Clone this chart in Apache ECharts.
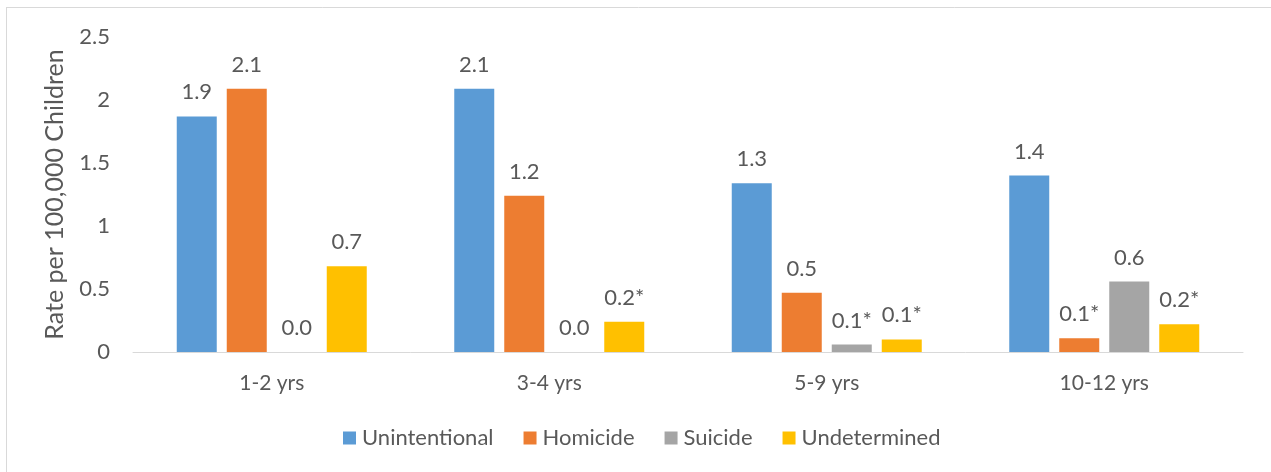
<!DOCTYPE html>
<html>
<head>
<meta charset="utf-8">
<script src="https://cdn.jsdelivr.net/npm/echarts@6/dist/echarts.min.js"></script>
<style>
  html, body { margin: 0; padding: 0; background: #ffffff; }
  #chart { width: 1271px; height: 472px; }
</style>
</head>
<body>
<div id="chart"></div>
<script>
// Age groups on the x axis
const ageGroups = ['1-2 yrs', '3-4 yrs', '5-9 yrs', '10-12 yrs'];

// Rates per 100,000 children, by manner of death
const unintentional = [1.87, 2.09, 1.34, 1.40];
const homicide      = [2.09, 1.24, 0.47, 0.11];
const suicide       = [0.00, 0.00, 0.06, 0.56];
const undetermined  = [0.68, 0.24, 0.10, 0.22];

// Rates flagged with an asterisk (unstable estimates)
const unintentionalFlag = [false, false, false, false];
const homicideFlag      = [false, false, false, true];
const suicideFlag       = [false, false, true, false];
const undeterminedFlag  = [false, true, true, true];

// Y axis ticks
const yTicks = [0, 0.5, 1, 1.5, 2, 2.5];

const FONT = 'Lato';
const TEXT = '#595959';

function makeSeries(name, values, flags, color) {
  return {
    name: name,
    type: 'bar',
    data: values,
    barWidth: 40,
    barGap: '25%',
    itemStyle: { color: color },
    label: {
      show: true,
      position: 'top',
      distance: 13,
      color: TEXT,
      fontFamily: FONT,
      fontSize: 22,
      formatter: function (p) {
        return p.value.toFixed(1) + (flags[p.dataIndex] ? '*' : '');
      }
    }
  };
}

const chart = echarts.init(document.getElementById('chart'), null, { renderer: 'canvas' });
chart.setOption({
  animation: false,
  backgroundColor: '#ffffff',
  textStyle: { fontFamily: FONT },
  grid: { left: 133, right: 28, top: 37, bottom: 120, containLabel: false },
  legend: {
    left: 343,
    top: 427,
    padding: 0,
    itemWidth: 13,
    itemHeight: 13,
    itemGap: 30,
    icon: 'rect',
    textStyle: { color: TEXT, fontFamily: FONT, fontSize: 22, padding: [0, 0, 0, 1] },
    data: ['Unintentional', 'Homicide', 'Suicide', 'Undetermined']
  },
  xAxis: {
    type: 'category',
    data: ageGroups,
    axisLine: { lineStyle: { color: '#D9D9D9', width: 1 } },
    axisTick: { show: false },
    axisLabel: { color: TEXT, fontFamily: FONT, fontSize: 21, margin: 21 }
  },
  yAxis: {
    type: 'value',
    min: yTicks[0],
    max: yTicks[yTicks.length - 1],
    interval: yTicks[1] - yTicks[0],
    name: 'Rate per 100,000 Children',
    nameLocation: 'middle',
    nameGap: 66,
    nameTextStyle: { color: TEXT, fontFamily: FONT, fontSize: 25 },
    axisLine: { show: false },
    axisTick: { show: false },
    splitLine: { show: false },
    axisLabel: {
      color: TEXT, fontFamily: FONT, fontSize: 22, margin: 23,
      formatter: function (v) { return String(v); }
    }
  },
  graphic: [
    { type: 'line', shape: { x1: 6.5, y1: 7, x2: 6.5, y2: 472 }, style: { stroke: '#D9D9D9', lineWidth: 1 }, silent: true },
    { type: 'line', shape: { x1: 6, y1: 7.5, x2: 1271, y2: 7.5 }, style: { stroke: '#D9D9D9', lineWidth: 1 }, silent: true }
  ],
  series: [
    makeSeries('Unintentional', unintentional, unintentionalFlag, '#5B9BD5'),
    makeSeries('Homicide', homicide, homicideFlag, '#ED7D31'),
    makeSeries('Suicide', suicide, suicideFlag, '#A5A5A5'),
    makeSeries('Undetermined', undetermined, undeterminedFlag, '#FFC000')
  ]
});
</script>
</body>
</html>
